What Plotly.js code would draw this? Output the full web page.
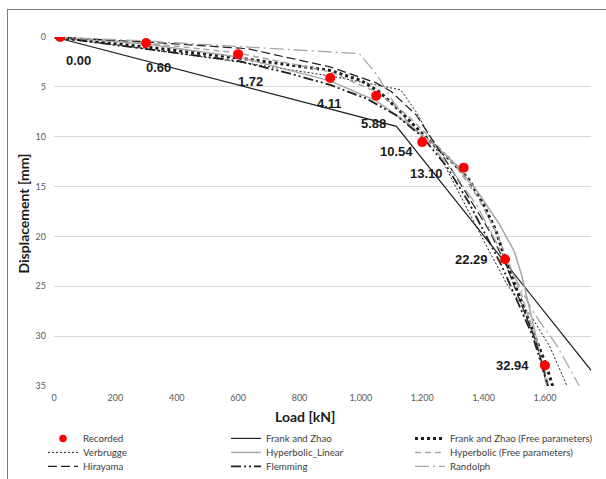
<!DOCTYPE html>
<html>
<head>
<meta charset="utf-8">
<script src="https://cdn.plot.ly/plotly-3.0.1.min.js"></script>
<style>
  html, body { margin: 0; padding: 0; overflow: hidden; background: #fff; }
  #chart { width: 606px; height: 479px; position: absolute; left: 0; top: 0; }
  #frame { position: absolute; left: 7px; top: 9px; width: 640px; height: 520px;
           border: 1.5px solid #7a7a7a; pointer-events: none; }
</style>
</head>
<body>
<div id="chart"></div>
<div id="frame"></div>
<script>
// ---- Data ----
const recordedLoad = [20, 300, 600, 900, 1050, 1200, 1335, 1470, 1600];
const recordedDisp = [0.00, 0.60, 1.72, 4.11, 5.88, 10.54, 13.10, 22.29, 32.94];

const frankZhaoLoad = [0, 1116, 1760];
const frankZhaoDisp = [0, 8.96, 33.8];

const fzFreeLoad = [0, 300, 600, 900, 1000, 1060, 1120, 1220, 1290, 1350, 1400, 1440, 1470, 1520, 1560, 1605, 1625];
const fzFreeDisp = [0, 1.0, 2.1, 3.35, 4.35, 5.5, 7.2, 10.3, 12.3, 14.2, 16.8, 19.4, 22.3, 26.3, 29.5, 33.0, 35.0];

const verbruggeLoad = [0, 300, 600, 900, 1130, 1180, 1225, 1265, 1300, 1360, 1410, 1480, 1555, 1615, 1672];
const verbruggeDisp = [0, 1.2, 2.5, 3.9, 5.3, 7.5, 10.0, 12.4, 14.4, 18.0, 21.0, 25.0, 28.0, 31.0, 35.0];

const hypLinLoad = [0, 300, 600, 900, 1050, 1110, 1220, 1300, 1380, 1450, 1500, 1525, 1548, 1578, 1605];
const hypLinDisp = [0, 0.7, 2.0, 4.4, 6.4, 7.7, 10.3, 12.5, 15.5, 18.7, 21.5, 24.0, 27.0, 31.0, 35.0];

const hypFreeLoad = [0, 300, 600, 900, 1050, 1150, 1230, 1310, 1380, 1440, 1480, 1525, 1565, 1600, 1612];
const hypFreeDisp = [0, 0.6, 1.6, 3.5, 5.5, 7.8, 10.2, 13.0, 16.0, 19.5, 22.5, 26.0, 30.0, 33.5, 35.0];

const hirayamaLoad = [0, 300, 630, 900, 1050, 1100, 1180, 1230, 1290, 1360, 1420, 1475, 1525, 1570, 1610];
const hirayamaDisp = [0, 0.5, 1.17, 3.0, 4.6, 5.5, 7.8, 10.2, 13.0, 16.5, 19.5, 23.0, 27.0, 30.5, 35.0];

const flemmingLoad = [0, 300, 600, 770, 900, 1020, 1115, 1200, 1280, 1350, 1410, 1460, 1510, 1560, 1610];
const flemmingDisp = [0, 1.2, 2.4, 3.67, 4.8, 6.2, 7.85, 10.0, 13.0, 16.5, 20.0, 23.0, 26.5, 30.0, 35.0];

const randolphLoad = [0, 300, 600, 900, 995, 1050, 1100, 1150, 1220, 1300, 1380, 1440, 1500, 1560, 1640, 1712];
const randolphDisp = [0, 0.4, 0.95, 1.5, 1.67, 3.7, 6.2, 8.5, 10.5, 13.5, 17.0, 20.5, 24.0, 27.5, 31.0, 35.0];

const xTickVals = [0, 200, 400, 600, 800, 1000, 1200, 1400, 1600];
const xTickText = ['0', '200', '400', '600', '800', '1,000', '1,200', '1,400', '1,600'];
const yTickVals = [0, 5, 10, 15, 20, 25, 30, 35];

// label offsets in pixels (dx right, dy down) for the recorded value labels
const labelDx = [18, 12, 12, -1, -3, -26, -37, -34, -32];
const labelDy = [23, 25, 27, 26, 28, 9, 6, 0, 0];

// ---- Traces ----
const BLACK = '#1e1e1e';
const GRAY = '#a6a6a6';
function line(name, x, y, color, width, dash, legend, rank) {
  return { type: 'scatter', mode: 'lines', name: name, x: x, y: y, legend: legend, legendrank: rank,
           line: { color: color, width: width, dash: dash }, hoverinfo: 'skip' };
}

const recordedTrace = { type: 'scatter', mode: 'markers', name: 'Recorded', x: recordedLoad, y: recordedDisp,
  legend: 'legend', legendrank: 1, marker: { color: '#ff0000', size: 10 } };
const modelTraces = [
  line('Frank and Zhao', frankZhaoLoad, frankZhaoDisp, BLACK, 1.2, 'solid', 'legend2', 1),
  line('Frank and Zhao (Free parameters)', fzFreeLoad, fzFreeDisp, BLACK, 3, 'dot', 'legend3', 1),
  line('Verbrugge', verbruggeLoad, verbruggeDisp, BLACK, 1, '2px,2px', 'legend', 2),
  line('Hyperbolic_Linear', hypLinLoad, hypLinDisp, GRAY, 1.5, 'solid', 'legend2', 2),
  line('Hyperbolic (Free parameters)', hypFreeLoad, hypFreeDisp, GRAY, 1.5, '6px,4px', 'legend3', 2),
  line('Hirayama', hirayamaLoad, hirayamaDisp, BLACK, 1.2, '9px,4px', 'legend', 3),
  line('Flemming', flemmingLoad, flemmingDisp, BLACK, 1.8, '10px,3px,2px,3px,2px,3px', 'legend2', 3),
  line('Randolph', randolphLoad, randolphDisp, GRAY, 1.3, '14px,4px,2px,4px', 'legend3', 3)
];
// draw recorded points on top
const ordered = modelTraces.concat([recordedTrace]);

const annotations = recordedLoad.map((x, i) => ({
  x: x, y: recordedDisp[i], xref: 'x', yref: 'y',
  text: recordedDisp[i].toFixed(2), showarrow: false,
  xanchor: 'center', yanchor: 'middle',
  xshift: labelDx[i], yshift: -labelDy[i],
  font: { family: 'Liberation Sans, Arial, sans-serif', size: 13, color: '#1a1a1a', weight: 'bold' }
}));
annotations.push({
  xref: 'paper', yref: 'paper', x: 0.4677, y: -0.086, showarrow: false,
  xanchor: 'center', yanchor: 'middle',
  text: '<b>Load [kN]</b>', font: { family: 'Lato, sans-serif', size: 14, color: '#1a1a1a' }
});
annotations.push({
  xref: 'paper', yref: 'paper', x: -0.056, y: 0.494, showarrow: false, textangle: -90,
  xanchor: 'center', yanchor: 'middle',
  text: '<b>Displacement [mm]</b>', font: { family: 'Lato, sans-serif', size: 14, color: '#1a1a1a' }
});

function legendAt(px) {
  return {
    orientation: 'v', xref: 'container', yref: 'container',
    x: px / 606, xanchor: 'left', y: 0.115, yanchor: 'top',
    font: { family: 'Lato, sans-serif', size: 9.7, color: '#404040' },
    itemwidth: 30, tracegroupgap: 0, traceorder: 'normal', bgcolor: 'rgba(0,0,0,0)'
  };
}

const layout = {
  width: 606, height: 479,
  margin: { l: 54, r: 15, t: 37, b: 93, autoexpand: false },
  paper_bgcolor: 'rgba(0,0,0,0)', plot_bgcolor: '#ffffff',
  showlegend: true,
  legend: legendAt(43),
  legend2: legendAt(226),
  legend3: legendAt(410),
  xaxis: {
    range: [0, 1750], tickvals: xTickVals, ticktext: xTickText,
    showgrid: false, zeroline: false, showline: false, ticks: '',
    tickfont: { family: 'Lato, sans-serif', size: 9, color: '#595959' },
    ticklabelstandoff: 5
  },
  yaxis: {
    range: [35, 0], tickvals: yTickVals,
    showgrid: true, gridcolor: '#d9d9d9', gridwidth: 1,
    zeroline: false, showline: false, ticks: '',
    tickfont: { family: 'Lato, sans-serif', size: 9, color: '#595959' },
    ticklabelstandoff: 7
  },
  annotations: annotations
};

Plotly.newPlot('chart', ordered, layout, { staticPlot: true, displayModeBar: false }).then(function (gd) {
  // tighten legend row spacing to match the reference (14px rows)
  const groups = new Map();
  gd.querySelectorAll('.infolayer .traces').forEach(function (g) {
    const m = /translate\(\s*([-\d.]+)[ ,]+([-\d.]+)\s*\)/.exec(g.getAttribute('transform') || '');
    if (!m) return;
    const p = g.parentNode;
    if (!groups.has(p)) groups.set(p, []);
    groups.get(p).push({ g: g, x: parseFloat(m[1]), y: parseFloat(m[2]) });
  });
  groups.forEach(function (rows) {
    const ys = Array.from(new Set(rows.map(r => r.y))).sort((a, b) => a - b);
    rows.forEach(function (r) {
      const idx = ys.indexOf(r.y);
      r.g.setAttribute('transform', 'translate(' + r.x + ',' + (ys[0] + idx * 14) + ')');
    });
  });
  // smaller marker swatch in the legend, as in the reference
  gd.querySelectorAll('.infolayer .legendpoints path.scatterpts').forEach(function (p) {
    const t = p.getAttribute('transform') || '';
    p.setAttribute('transform', t + ' scale(0.75)');
  });
});
</script>
</body>
</html>
